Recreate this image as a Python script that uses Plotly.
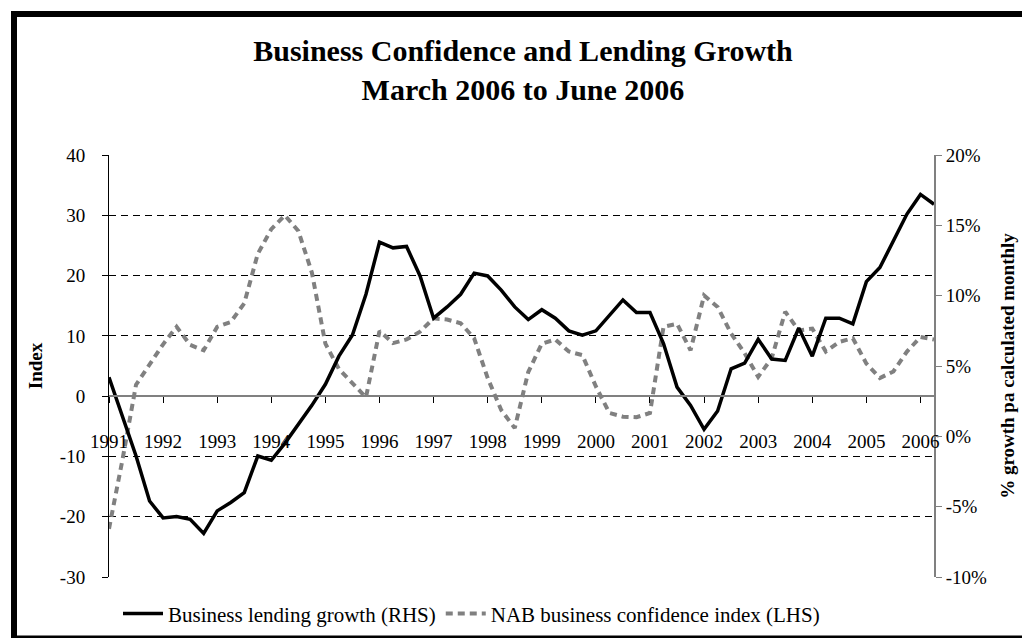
import plotly.graph_objects as go

# quarterly observations, March 1991 .. June 2006
quarters = [1991 + 0.25 * k for k in range(62)]

lending_growth_pct = [
    4.2, 1.4, -1.4, -4.6, -5.8, -5.7, -5.9, -6.9, -5.3, -4.7,
    -4.0, -1.4, -1.7, -0.5, 0.8, 2.2, 3.7, 5.7, 7.2, 10.1,
    13.8, 13.4, 13.5, 11.4, 8.4, 9.2, 10.1, 11.6, 11.4, 10.4,
    9.2, 8.3, 9.0, 8.4, 7.5, 7.2, 7.5, 8.6, 9.7, 8.8,
    8.8, 6.6, 3.5, 2.2, 0.5, 1.8, 4.8, 5.2, 6.9, 5.5,
    5.4, 7.7, 5.7, 8.4, 8.4, 8.0, 11.0, 12.0, 13.9, 15.8,
    17.2, 16.5,
]

nab_confidence = [
    -22.0, -10.5, 1.9, 5.3, 8.6, 11.5, 8.5, 7.6, 11.5, 12.3,
    15.4, 23.6, 27.7, 30.0, 27.4, 20.5, 8.7, 4.5, 2.1, -0.2,
    10.8, 8.8, 9.4, 10.7, 12.9, 12.7, 12.1, 9.6, 3.0, -2.3,
    -5.3, 4.0, 8.7, 9.4, 7.4, 6.8, 1.6, -2.8, -3.4, -3.5,
    -2.8, 11.5, 12.0, 7.6, 16.7, 14.8, 10.4, 7.1, 3.2, 6.3,
    14.0, 10.9, 11.2, 7.4, 9.0, 9.6, 5.4, 3.0, 4.1, 7.4,
    9.8, 9.4,
]

year_ticks = list(range(1991, 2007))
year_labels = [str(y) for y in year_ticks]
left_ticks = [-30, -20, -10, 0, 10, 20, 30, 40]
left_labels = ["-30", "-20", "-10", "0", "10", "20", "30", "40"]
right_ticks = [-10, -5, 0, 5, 10, 15, 20]
right_labels = ["-10%", "-5%", "0%", "5%", "10%", "15%", "20%"]

FONT = "Liberation Serif, Times New Roman, serif"

fig = go.Figure()
fig.add_trace(go.Scatter(
    x=quarters, y=lending_growth_pct, yaxis="y2", mode="lines",
    name="Business lending growth (RHS)",
    line=dict(color="black", width=3.5),
))
fig.add_trace(go.Scatter(
    x=quarters, y=nab_confidence, yaxis="y", mode="lines",
    name="NAB business confidence index (LHS)",
    line=dict(color="#808080", width=4, dash="7px,5px"),
))

W, H = 1030, 638
L, R, T, B = 101, 926, 147, 572


def px(xp):
    return (xp - L) / (R - L)


def py(yp):
    return (B - yp) / (B - T)


fig.update_layout(
    width=W, height=H,
    margin=dict(l=L, r=W - R, t=T, b=H - B),
    paper_bgcolor="white", plot_bgcolor="white",
    font=dict(family=FONT, size=19, color="black"),
    title=dict(
        text="<b>Business Confidence and Lending Growth</b><br><b>March 2006 to June 2006</b>",
        x=0.5, xanchor="center", y=1 - 53 / H, yanchor="middle",
        font=dict(size=30, family=FONT, color="black"),
    ),
    showlegend=True,
    legend=dict(
        orientation="h", x=px(110), xanchor="left", y=py(609), yanchor="middle",
        font=dict(size=21, family=FONT), bgcolor="rgba(0,0,0,0)",
        itemwidth=40, tracegroupgap=0,
    ),
    xaxis=dict(
        range=[1991, 2006.25], tickmode="array", tickvals=year_ticks, ticktext=year_labels,
        showgrid=False, zeroline=False,
        anchor="free", position=3 / 7,
        showline=True, linecolor="#808080", linewidth=1.5,
        ticks="outside", ticklen=6, tickcolor="black", tickwidth=1,
        ticklabelstandoff=22,
        tickfont=dict(size=19),
    ),
    yaxis=dict(
        range=[-30, 40], tickmode="array", tickvals=left_ticks, ticktext=left_labels,
        showgrid=True, gridcolor="black", gridwidth=1, griddash="7px,5px",
        zeroline=False, showline=True, linecolor="black", linewidth=1,
        ticks="outside", ticklen=6, tickcolor="black",
        ticklabelstandoff=13,
        title=dict(text="<b>Index</b>", font=dict(size=19), standoff=12),
        tickfont=dict(size=19),
    ),
    yaxis2=dict(
        range=[-10, 20], tickmode="array", tickvals=right_ticks, ticktext=right_labels,
        overlaying="y", side="right", showgrid=False, zeroline=False,
        showline=True, linecolor="#808080", linewidth=2,
        ticks="outside", ticklen=6, tickcolor="#808080",
        title=dict(text="<b>% growth pa calculated monthly</b>", font=dict(size=19), standoff=15),
        tickfont=dict(size=19),
    ),
    shapes=[dict(
        type="rect", xref="paper", yref="paper",
        x0=px(6), x1=px(1025), y0=py(634), y1=py(5),
        line=dict(color="black", width=6), fillcolor="rgba(0,0,0,0)", layer="above",
    )],
)

fig.write_html("out.html")
